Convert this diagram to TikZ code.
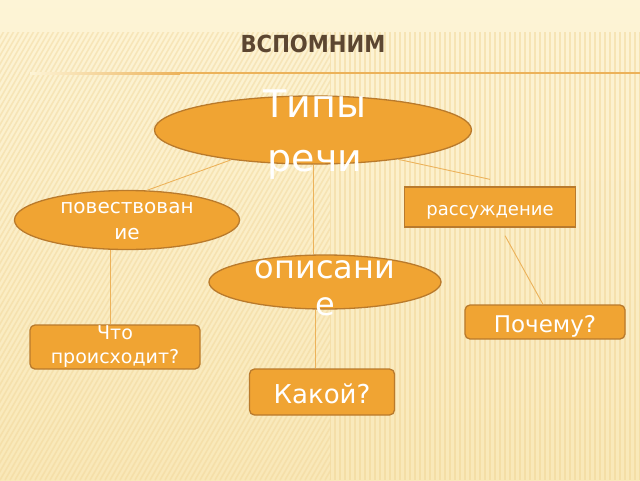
\documentclass[tikz,border=0pt]{standalone}
\usepackage{fontspec}
\setmainfont{DejaVu Sans}
\newfontfamily\titlefont{DejaVu Sans Condensed}
\usetikzlibrary{shapes.geometric}
\definecolor{bgtop}{HTML}{FDF4D6}
\definecolor{bgbottom}{HTML}{F9E8B8}
\definecolor{stripetan}{HTML}{EFD291}
\definecolor{boxfill}{HTML}{F0A433}
\definecolor{boxedge}{HTML}{B97A2C}
\definecolor{linkcol}{HTML}{ECB25A}
\definecolor{titlecol}{HTML}{5C4631}
\newcommand{\fs}[2]{\fontsize{#1}{#2}\selectfont}

\begin{document}
\begin{tikzpicture}[x=1pt,y=-1pt]
\tikzstyle{oval}=[ellipse, draw=boxedge, fill=boxfill, line width=1.3pt, inner sep=0pt]
\tikzstyle{card}=[rectangle, draw=boxedge, fill=boxfill, line width=1.3pt, inner sep=0pt, text=white]
\tikzstyle{roundcard}=[card, rounded corners=5pt]
\tikzstyle{ovaltext}=[text=white, align=center, inner sep=0pt]
\tikzstyle{link}=[draw=linkcol, line width=0.9pt]

\useasboundingbox (0,0) rectangle (640,480);

% Background
\shade[top color=bgtop, bottom color=bgbottom] (0,0) rectangle (640,480);
\begin{scope}
\clip (0,32) rectangle (330,480);
\foreach \i in {-300,-295,...,340} \draw[stripetan, line width=1.6pt, opacity=0.4] (\i,480) -- (\i+277,0);
\end{scope}
\begin{scope}
\clip (330,32) rectangle (640,480);
\foreach \i in {330,335,...,640} \draw[stripetan, line width=1.6pt, opacity=0.45] (\i,0) -- (\i,480);
\end{scope}

% Title
\node[font=\titlefont\bfseries\fs{23.5}{28}, text=titlecol, anchor=base] (title) at (313,52) {ВСПОМНИМ};
\shade[left color=bgtop, right color=linkcol] (30,72) rectangle (180,74);
\fill[linkcol] (180,72) rectangle (640,74);

% Root node
\node[oval, minimum width=317pt, minimum height=68pt] (types) at (313,130) {};
\node[ovaltext, font=\fs{38}{54}] (types-txt) at (315,135) {Типы\\речи};

% Second row
\node[oval, minimum width=225pt, minimum height=59pt] (narr) at (127,220) {};
\node[ovaltext, font=\fs{20}{26}] (narr-txt) at (127,221) {повествован\\ие};
\node[card, minimum width=171pt, minimum height=40pt, font=\fs{18}{22}, text height=16pt, text depth=0pt] (rass) at (490,207) {рассуждение};
\node[oval, minimum width=232pt, minimum height=54pt] (desc) at (325,282) {};
\node[ovaltext, font=\fs{32}{37}] (desc-txt) at (325,288) {описани\\е};

% Questions
\node[roundcard, minimum width=170pt, minimum height=44pt, font=\fs{19}{24}, align=center] (chto) at (115,347) {Что\\происходит?};
\node[roundcard, minimum width=160pt, minimum height=34pt, font=\fs{23}{27}, text height=20pt, text depth=0pt] (why) at (545,322) {Почему?};
\node[roundcard, minimum width=145pt, minimum height=46pt, font=\fs{26}{30}, text height=22pt, text depth=0pt] (kakoy) at (322,392) {Какой?};

% Connect nodes
\draw[link] (types.200) -- (narr.56);
\draw[link] (types.south) -- (types.south |- desc.north);
\draw[link] (types.-19) -- ([yshift=7pt]rass.north);

\draw[link] ([xshift=-5pt]chto.north |- narr.south) -- ([xshift=-5pt]chto.north);
\draw[link] ([xshift=15pt,yshift=-8pt]rass.south) -- ([xshift=-2pt]why.north);
\draw[link] ([xshift=-7pt]kakoy.north |- desc.south) -- ([xshift=-7pt]kakoy.north);
\end{tikzpicture}
\end{document}
